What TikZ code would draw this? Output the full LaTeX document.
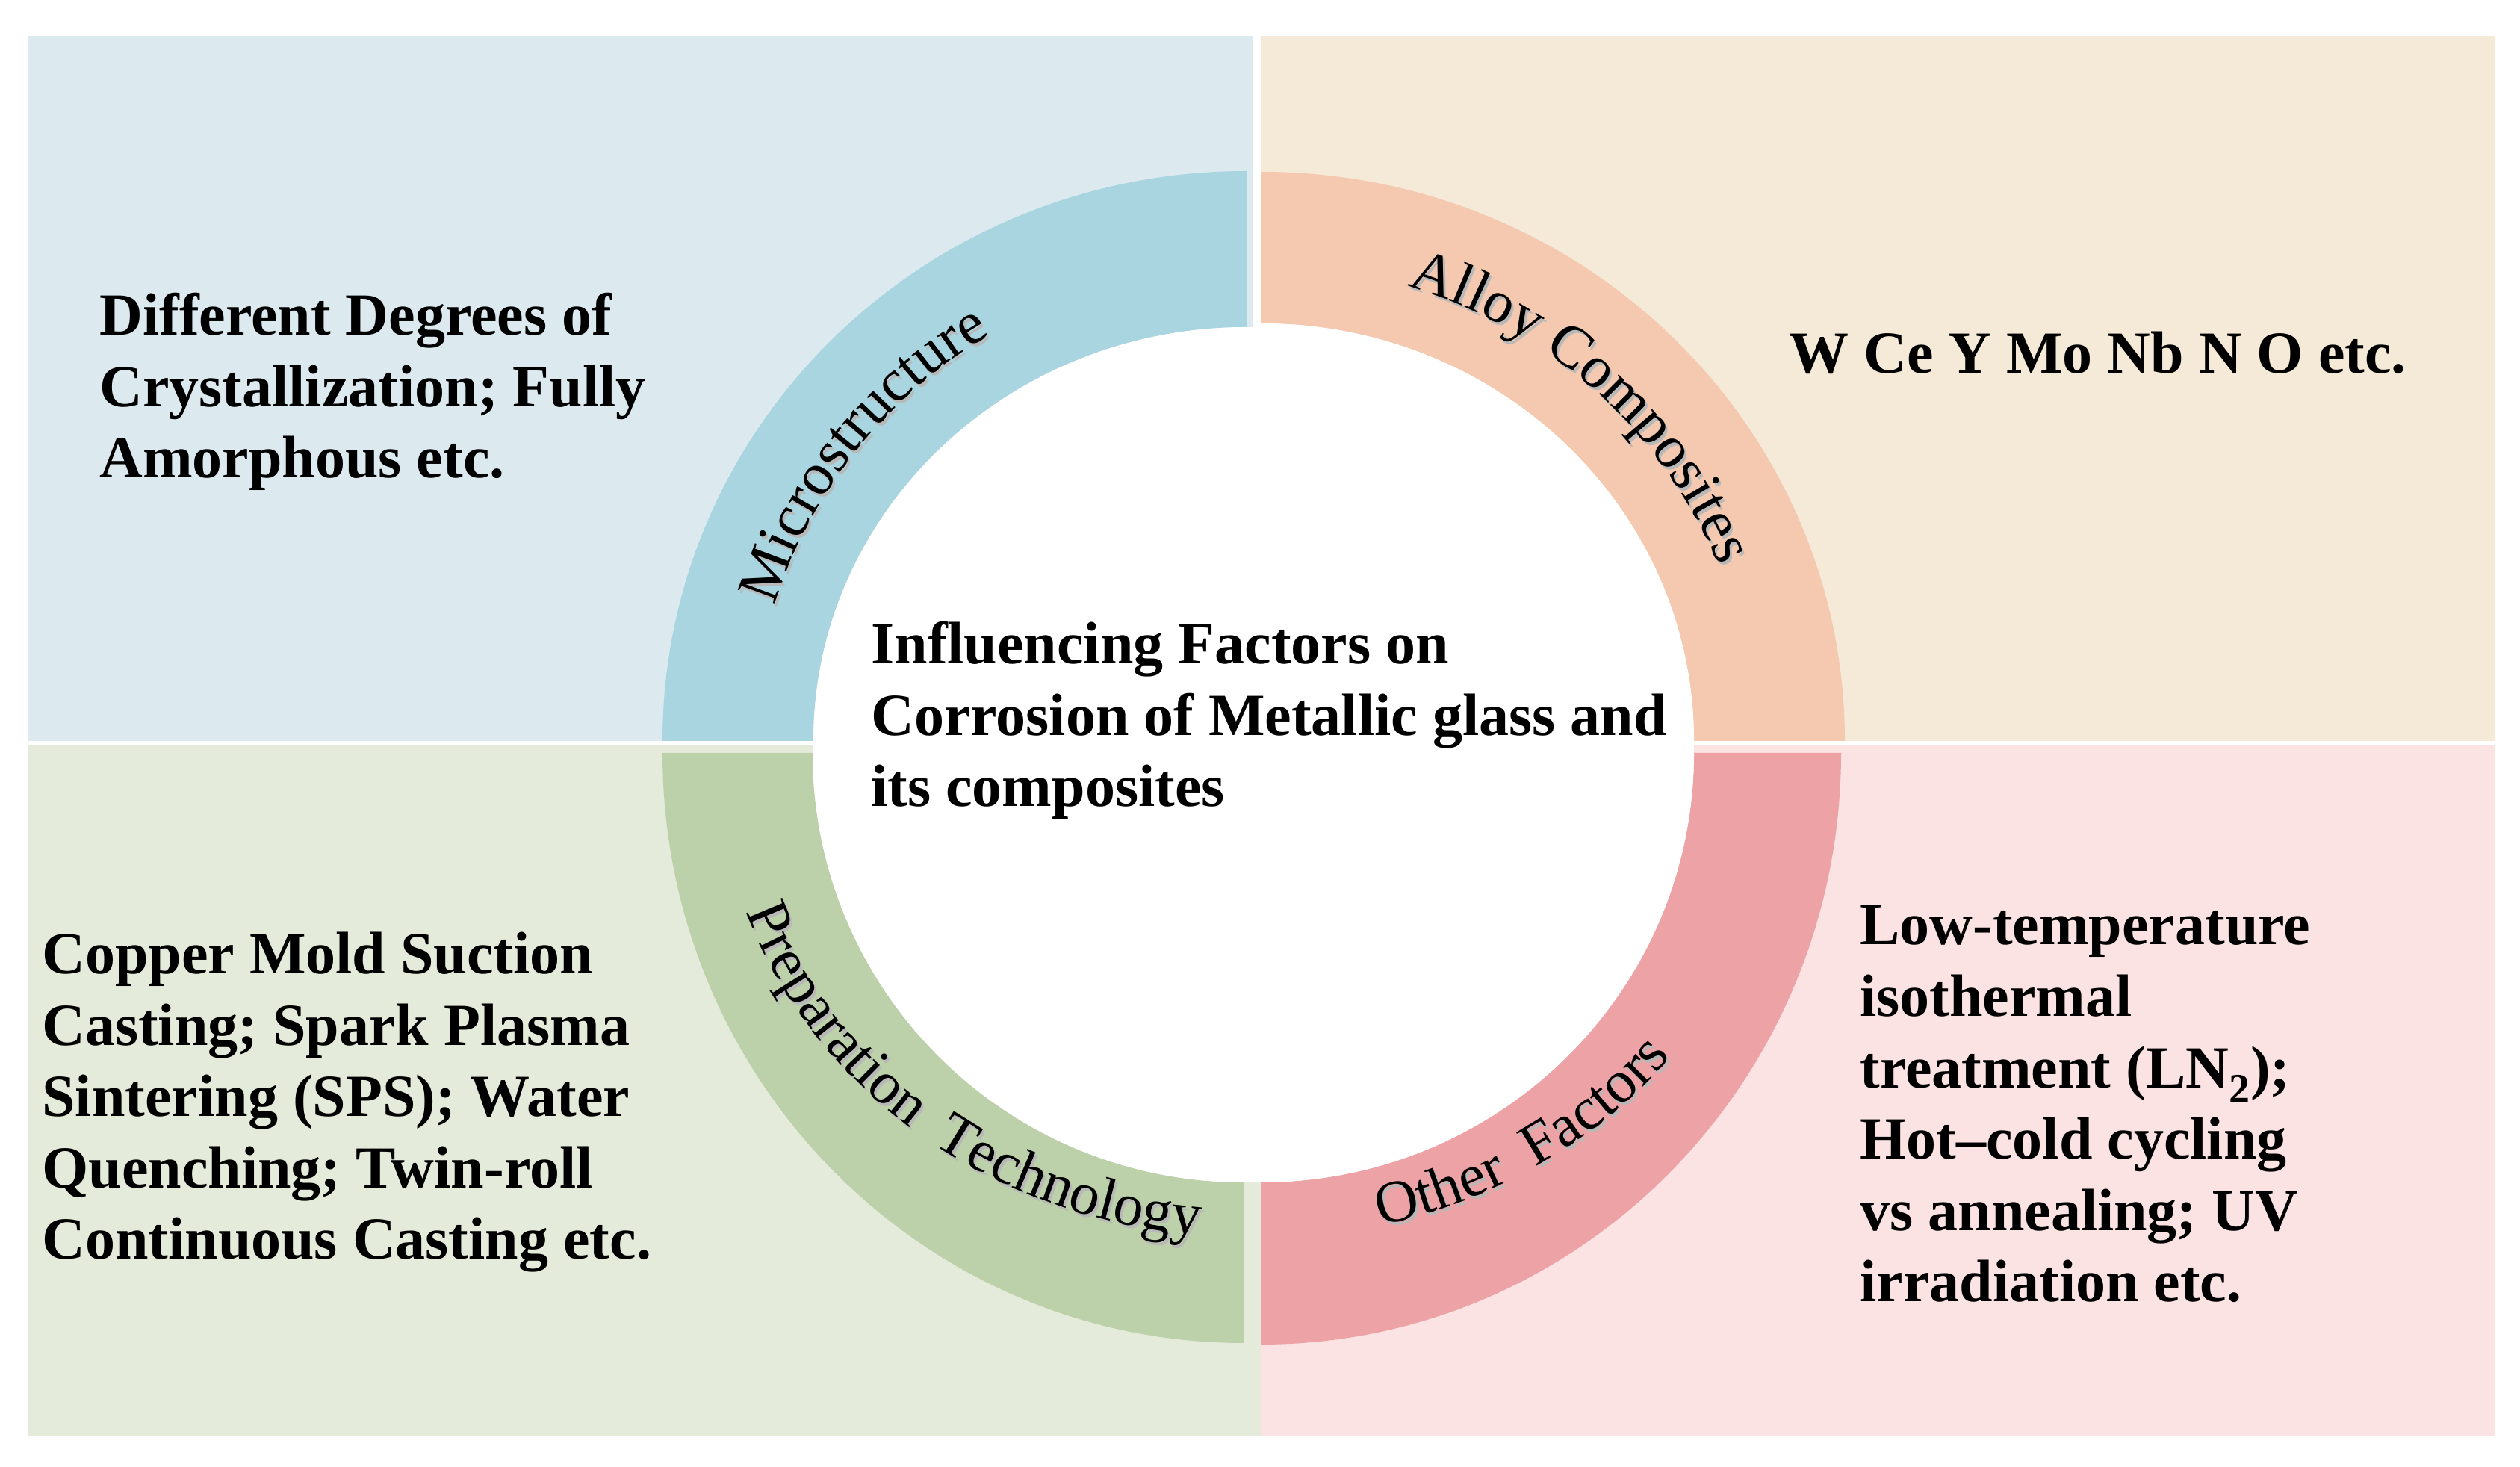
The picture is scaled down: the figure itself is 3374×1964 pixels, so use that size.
\documentclass[tikz,border=0pt]{standalone}
\usepackage{fontspec}
\setmainfont{Liberation Serif}
\usetikzlibrary{decorations.text,calc}
\definecolor{tlpanel}{HTML}{DCEAF0}
\definecolor{tlring}{HTML}{A8D5E0}
\definecolor{trpanel}{HTML}{F5E9D7}
\definecolor{trring}{HTML}{F4C9B0}
\definecolor{blpanel}{HTML}{E4EBDA}
\definecolor{blring}{HTML}{BCD0A9}
\definecolor{brpanel}{HTML}{FAE3E2}
\definecolor{brring}{HTML}{EDA2A6}
\newcommand\bodyfont{\fontsize{40}{47.8}\selectfont\bfseries}
\newcommand\ringfont{\fontsize{40}{48}\selectfont}
\tikzset{
  bodytext/.style={anchor=base west, inner sep=0pt, align=left, font=\bodyfont},
  ringlabel/.style={decorate, decoration={text along path, text align=center, text={|\ringfont|#1}}},
  shadowlabel/.style={decorate, decoration={text along path, text align=center, text color=black!28, text={|\ringfont|#1}}},
}
\begin{document}
\begin{tikzpicture}[x=0.5pt,y=0.5pt]
\fill[white] (0,0) rectangle (3374,1964);
\useasboundingbox (0,0) rectangle (3374,1964);
% panels
\fill[tlpanel] (38,972) rectangle (1678,1916);
\fill[trpanel] (1689,972) rectangle (3340,1916);
\fill[blpanel] (38,42) rectangle (1688,967);
\fill[brpanel] (1688,42) rectangle (3340,967);
% ring centers
\coordinate (tlc) at (1669,972);
\coordinate (trc) at (1689,972);
\coordinate (blc) at (1665,956);
\coordinate (brc) at (1688,956);
% ring quadrants
\fill[tlring] (887,972) arc[start angle=180,end angle=90,x radius=782,y radius=763]
  -- (1669,1526) arc[start angle=90,end angle=180,x radius=580,y radius=554] -- cycle;
\fill[trring] (1689,1734) arc[start angle=90,end angle=0,x radius=781,y radius=762]
  -- (2268,972) arc[start angle=0,end angle=90,x radius=579,y radius=559] -- cycle;
\fill[blring] (887,956) arc[start angle=180,end angle=270,x radius=778,y radius=790]
  -- (1665,381) arc[start angle=270,end angle=180,x radius=577,y radius=575] -- cycle;
\fill[brring] (1688,164) arc[start angle=270,end angle=360,x radius=777,y radius=792]
  -- (2268,956) arc[start angle=0,end angle=-90,x radius=580,y radius=575] -- cycle;
% white centre disc
\fill[white] (tlc) -- (1089,972) arc[start angle=180,end angle=90,x radius=580,y radius=554] -- cycle;
\fill[white] (trc) -- (1689,1531) arc[start angle=90,end angle=0,x radius=579,y radius=559] -- cycle;
\fill[white] (blc) -- (1088,956) arc[start angle=180,end angle=270,x radius=577,y radius=575] -- cycle;
\fill[white] (brc) -- (1688,381) arc[start angle=270,end angle=360,x radius=580,y radius=575] -- cycle;
\fill[white] (1088,955) rectangle (2268,973);
\fill[white] (1664,381) rectangle (1690,1526);
% ring labels (shadow then text)
\path[shadowlabel={Microstructure}] ($(tlc)+(3,-4)+(177.6:659 and 637)$) arc[start angle=177.6,end angle=107.6,x radius=659,y radius=637];
\path[ringlabel={Microstructure}] ($(tlc)+(177.6:659 and 637)$) arc[start angle=177.6,end angle=107.6,x radius=659,y radius=637];
\path[shadowlabel={Alloy Composites}] ($(trc)+(3,-4)+(82:658 and 638)$) arc[start angle=82,end angle=12,x radius=658,y radius=638];
\path[ringlabel={Alloy Composites}] ($(trc)+(82:658 and 638)$) arc[start angle=82,end angle=12,x radius=658,y radius=638];
\path[shadowlabel={Preparation {\hspace*{8pt}}Technology}] ($(blc)+(3,-4)+(195:705 and 648)$) arc[start angle=195,end angle=269,x radius=705,y radius=648];
\path[ringlabel={Preparation {\hspace*{8pt}}Technology}] ($(blc)+(195:705 and 648)$) arc[start angle=195,end angle=269,x radius=705,y radius=648];
\path[shadowlabel={Other {\hspace*{10pt}}Factors}] ($(brc)+(3,-4)+(272.5:705 and 650)$) arc[start angle=272.5,end angle=332.5,x radius=705,y radius=650];
\path[ringlabel={Other {\hspace*{10pt}}Factors}] ($(brc)+(272.5:705 and 650)$) arc[start angle=272.5,end angle=332.5,x radius=705,y radius=650];
% texts (anchored at the baseline of their last line)
\node[bodytext] (tltext) at (133,1324) {Different Degrees of\\Crystallization; Fully\\Amorphous etc.};
\node[bodytext] (trtext) at (2395,1464) {W Ce Y Mo Nb N O etc.};
\node[bodytext] (center) at (1166,884) {Influencing Factors on\\Corrosion of Metallic glass and\\its composites};
\node[bodytext] (bltext) at (56,278) {Copper Mold Suction\\Casting; Spark Plasma\\Sintering (SPS); Water\\Quenching; Twin-roll\\Continuous Casting etc.};
\node[bodytext] (brtext) at (2490,221) {Low-temperature\\isothermal\\treatment (LN\textsubscript{2});\\Hot--cold cycling\\vs annealing; UV\\irradiation etc.};
\end{tikzpicture}
\end{document}
